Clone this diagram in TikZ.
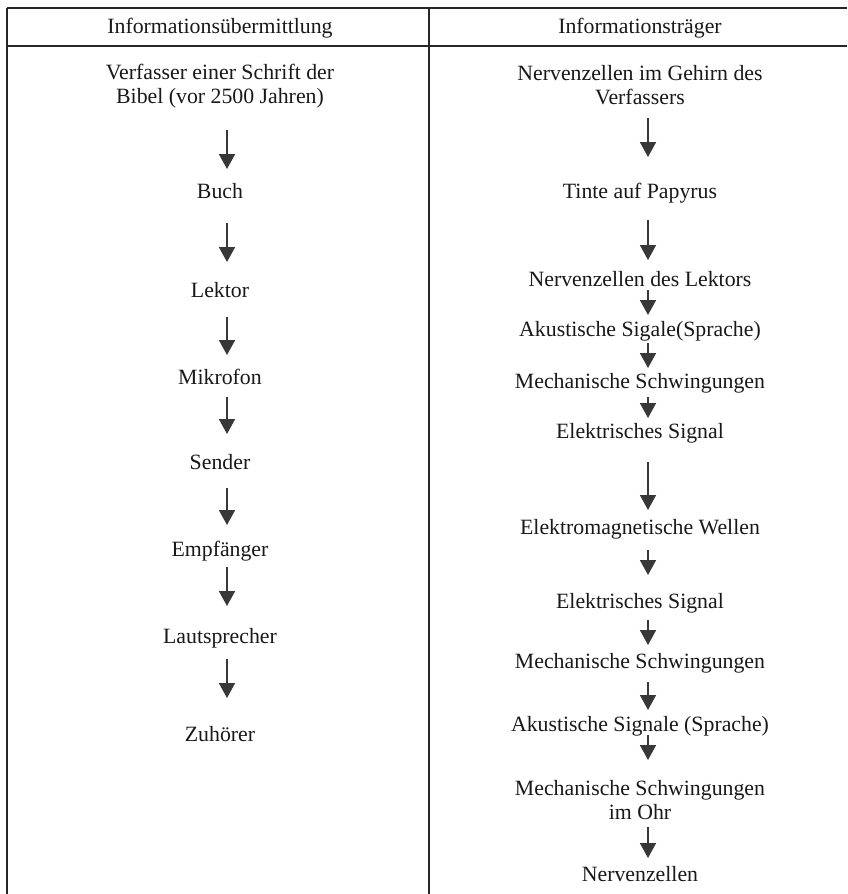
\documentclass[tikz,border=0pt]{standalone}
\usepackage{fontspec}
\setmainfont{Liberation Serif}
\usetikzlibrary{arrows.meta,calc}
\begin{document}
\begin{tikzpicture}[x=0.5pt,y=-0.5pt,
  lbl/.style={font=\fontsize{10.9}{12}\selectfont, text=black!90, inner sep=0pt, anchor=base, align=center},
  arr/.style={draw=black!78, line width=0.9pt, -{Triangle[width=8pt,length=7.5pt,fill=black!78]}},
  rule/.style={draw=black!85, line width=1pt}]
\useasboundingbox[fill=white] (0,0) rectangle (847,894);
% table rules
\coordinate (tl) at (7,8);
\coordinate (tr) at (847,8);
\coordinate (hl) at (7,46);
\coordinate (hr) at (847,46);
\coordinate (bl) at (7,894);
\coordinate (dt) at (429,8);
\coordinate (db) at (429,894);
\draw[rule] (tl) -- (tr);
\draw[rule] (hl) -- (hr);
\draw[rule, line width=1.2pt] (tl) -- (bl);
\draw[rule, line width=0.8pt] (dt) -- (db);
% headers
\node[lbl] (h1) at (220,33) {Informationsübermittlung};
\node[lbl] (h2) at (640,33) {Informationsträger};
% left column (multi-line nodes: base = last line)
\node[lbl] (l1) at (220,103) {Verfasser einer Schrift der\\Bibel (vor 2500 Jahren)};
\node[lbl] (l2) at (220,198) {Buch};
\node[lbl] (l3) at (220,297) {Lektor};
\node[lbl] (l4) at (220,384) {Mikrofon};
\node[lbl] (l5) at (220,469) {Sender};
\node[lbl] (l6) at (220,556) {Empfänger};
\node[lbl] (l7) at (220,643) {Lautsprecher};
\node[lbl] (l8) at (220,741) {Zuhörer};
\draw[arr] ($(l1.base)+(7,27)$) -- ($(l2.base)+(7,-29)$);
\draw[arr] ($(l2.base)+(7,25)$) -- ($(l3.base)+(7,-35)$);
\draw[arr] ($(l3.base)+(7,20)$) -- ($(l4.base)+(7,-29)$);
\draw[arr] ($(l4.base)+(7,13)$) -- ($(l5.base)+(7,-35)$);
\draw[arr] ($(l5.base)+(7,19)$) -- ($(l6.base)+(7,-31)$);
\draw[arr] ($(l6.base)+(7,11)$) -- ($(l7.base)+(7,-37)$);
\draw[arr] ($(l7.base)+(7,16)$) -- ($(l8.base)+(7,-43)$);
% right column
\node[lbl] (r1) at (640,104) {Nervenzellen im Gehirn des\\Verfassers};
\node[lbl] (r2) at (640,198) {Tinte auf Papyrus};
\node[lbl] (r3) at (640,286) {Nervenzellen des Lektors};
\node[lbl] (r4) at (640,336) {Akustische Sigale(Sprache)};
\node[lbl] (r5) at (640,388) {Mechanische Schwingungen};
\node[lbl] (r6) at (640,438) {Elektrisches Signal};
\node[lbl] (r7) at (640,534) {Elektromagnetische Wellen};
\node[lbl] (r8) at (640,608) {Elektrisches Signal};
\node[lbl] (r9) at (640,668) {Mechanische Schwingungen};
\node[lbl] (r10) at (640,731) {Akustische Signale (Sprache)};
\node[lbl] (r11) at (640,819) {Mechanische Schwingungen\\im Ohr};
\node[lbl] (r12) at (640,881) {Nervenzellen};
\draw[arr] ($(r1.base)+(8,14)$) -- ($(r2.base)+(8,-41)$);
\draw[arr] ($(r2.base)+(8,22)$) -- ($(r3.base)+(8,-26)$);
\draw[arr] ($(r3.base)+(8,4)$) -- ($(r4.base)+(8,-21)$);
\draw[arr] ($(r4.base)+(8,7)$) -- ($(r5.base)+(8,-20)$);
\draw[arr] ($(r5.base)+(8,9)$) -- ($(r6.base)+(8,-20)$);
\draw[arr] ($(r6.base)+(8,24)$) -- ($(r7.base)+(8,-24)$);
\draw[arr] ($(r7.base)+(8,16)$) -- ($(r8.base)+(8,-33)$);
\draw[arr] ($(r8.base)+(8,12)$) -- ($(r9.base)+(8,-23)$);
\draw[arr] ($(r9.base)+(8,14)$) -- ($(r10.base)+(8,-21)$);
\draw[arr] ($(r10.base)+(8,4)$) -- ($(r11.base)+(8,-59)$);
\draw[arr] ($(r11.base)+(8,8)$) -- ($(r12.base)+(8,-23)$);
\end{tikzpicture}
\end{document}
